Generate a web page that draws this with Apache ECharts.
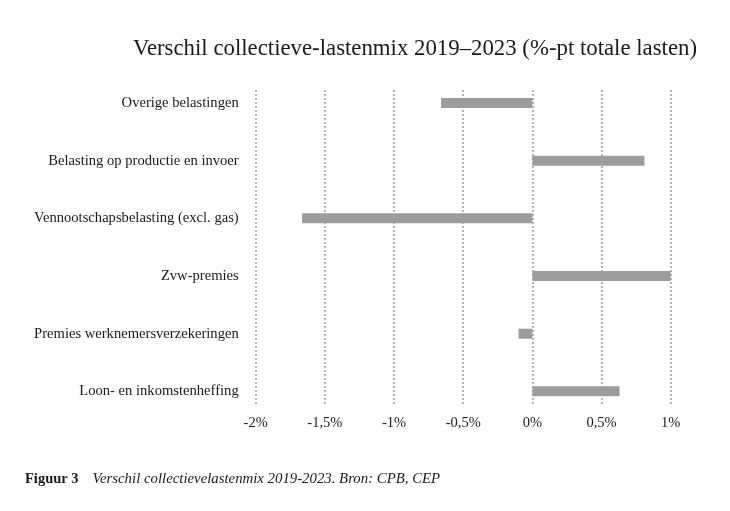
<!DOCTYPE html>
<html>
<head>
<meta charset="utf-8">
<script src="https://cdn.jsdelivr.net/npm/echarts@6/dist/echarts.min.js"></script>
<style>html,body{margin:0;padding:0;background:#fff}#c{width:730px;height:511px}</style>
</head>
<body>
<div id="c"></div>
<script>
const categories = ['Overige belastingen','Belasting op productie en invoer','Vennootschapsbelasting (excl. gas)','Zvw-premies','Premies werknemersverzekeringen','Loon- en inkomstenheffing'];
const values = [-0.66, 0.81, -1.665, 1.0, -0.10, 0.63];
const xTicks = [-2, -1.5, -1, -0.5, 0, 0.5, 1];
const titleText = 'Verschil collectieve-lastenmix 2019–2023 (%-pt totale lasten)';
const captionBold = 'Figuur 3';
const captionItalic = 'Verschil collectievelastenmix 2019-2023. Bron: CPB, CEP';

const font = 'Liberation Serif';
const fmt = v => (v === 0 ? '0' : String(v).replace('.', ',')) + '%';

const chart = echarts.init(document.getElementById('c'), null, {renderer: 'canvas'});
chart.setOption({
  backgroundColor: '#fff',
  animation: false,
  title: [{
    text: titleText,
    left: 410, top: 33, textAlign: 'center',
    textStyle: {fontFamily: font, fontSize: 22.8, fontWeight: 'normal', color: '#1a1a1a'}
  }, {
    text: '{b|' + captionBold + '}{i|' + captionItalic + '}',
    left: 20, top: 467,
    textStyle: {
      rich: {
        b: {fontFamily: font, fontSize: 14.5, fontWeight: 'bold', color: '#1a1a1a', padding: [0, 14, 0, 0]},
        i: {fontFamily: font, fontSize: 14.8, fontWeight: 'normal', fontStyle: 'italic', color: '#1a1a1a'}
      }
    }
  }],
  grid: [
    {left: 255.7, right: 59.3, top: 90, height: 314},
    {left: 255.7, right: 59.3, top: 74.2, height: 346}
  ],
  xAxis: [{
    gridIndex: 0, type: 'value', min: xTicks[0], max: xTicks[xTicks.length-1], interval: 0.5,
    axisLine: {show: false}, axisTick: {show: false},
    axisLabel: {formatter: fmt, fontFamily: font, fontSize: 14.5, color: '#1a1a1a', margin: 12},
    splitLine: {show: true, lineStyle: {type: [2, 2], width: 1.5, color: '#9a9a9a'}}
  }, {
    gridIndex: 1, type: 'value', min: xTicks[0], max: xTicks[xTicks.length-1], interval: 0.5,
    axisLine: {show: false}, axisTick: {show: false}, axisLabel: {show: false}, splitLine: {show: false}
  }],
  yAxis: [{
    gridIndex: 0, type: 'category', data: categories, show: false
  }, {
    gridIndex: 1, type: 'category', data: categories, inverse: true,
    axisLine: {show: false}, axisTick: {show: false}, splitLine: {show: false},
    axisLabel: {fontFamily: font, fontSize: 14.6, color: '#1a1a1a', margin: 17}
  }],
  series: [{
    type: 'bar', xAxisIndex: 1, yAxisIndex: 1, data: values, barWidth: 10,
    itemStyle: {color: '#9c9c9c'}, silent: true
  }]
});
</script>
</body>
</html>
